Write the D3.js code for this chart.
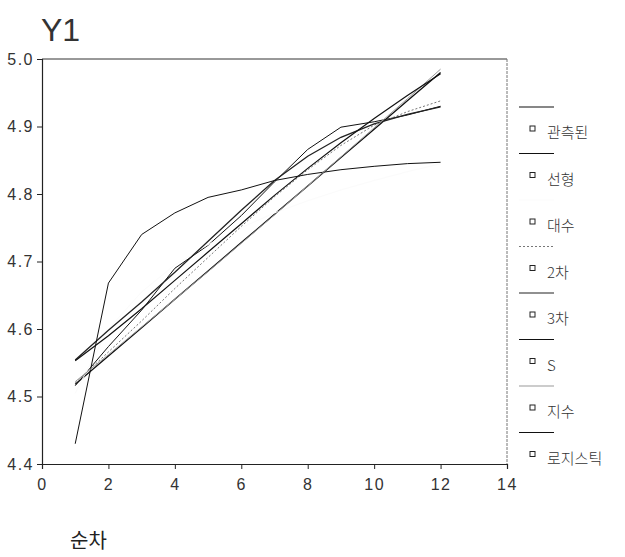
<!DOCTYPE html>
<html lang="ko">
  <head>
    <meta charset="UTF-8" />
    <title>Y1 curve fit</title>
    <style type="text/css">
      body {
        margin: 0;
        background: #ffffff;
        font-family: "Liberation Sans", Arial, sans-serif;
      }
      svg {
        display: block;
      }
      .tick-label {
        font-size: 16px;
        letter-spacing: 1.5px;
        fill: #333;
      }
      .legend-label {
        font-family: "Noto Sans CJK KR", "Liberation Sans", sans-serif;
        font-size: 15px;
        font-weight: 300;
        fill: #333;
      }
    </style>
  </head>
  <body>
    <script src="https://cdnjs.cloudflare.com/ajax/libs/d3/7.8.5/d3.min.js"></script>
    <script>
      // time index
      var t = [1, 2, 3, 4, 5, 6, 7, 8, 9, 10, 11, 12];

      // series values
      var observed = [4.516, 4.574, 4.628, 4.690, 4.724, 4.768, 4.818, 4.866, 4.899, 4.907, 4.917, 4.930];
      var linear = [4.518, 4.560, 4.602, 4.644, 4.686, 4.728, 4.770, 4.812, 4.854, 4.896, 4.938, 4.980];
      var logarithmic = [4.505, 4.600, 4.655, 4.695, 4.725, 4.750, 4.772, 4.790, 4.806, 4.820, 4.833, 4.845];
      var quadratic = [4.520, 4.566, 4.612, 4.660, 4.706, 4.752, 4.796, 4.836, 4.872, 4.902, 4.922, 4.938];
      var cubic = [4.554, 4.598, 4.640, 4.684, 4.730, 4.776, 4.820, 4.856, 4.884, 4.904, 4.918, 4.929];
      var sCurve = [4.430, 4.668, 4.740, 4.772, 4.795, 4.806, 4.820, 4.829, 4.836, 4.841, 4.845, 4.847];
      var exponential = [4.522, 4.562, 4.603, 4.644, 4.685, 4.727, 4.769, 4.812, 4.855, 4.898, 4.941, 4.985];
      var logistic = [4.553, 4.590, 4.630, 4.672, 4.714, 4.756, 4.798, 4.838, 4.876, 4.912, 4.946, 4.978];

      var names = ["관측된", "선형", "대수", "2차", "3차", "S", "지수", "로지스틱"];
      var xTicks = [0, 2, 4, 6, 8, 10, 12, 14];
      var yTicks = [4.4, 4.5, 4.6, 4.7, 4.8, 4.9, 5.0];

      var series = [
        { name: names[0], values: observed, stroke: "#111", width: 1, dash: null },
        { name: names[1], values: linear, stroke: "#111", width: 1.3, dash: null },
        { name: names[2], values: logarithmic, stroke: "#fbfbfb", width: 1, dash: null },
        { name: names[3], values: quadratic, stroke: "#777", width: 1, dash: "2,2" },
        { name: names[4], values: cubic, stroke: "#222", width: 1.3, dash: null },
        { name: names[5], values: sCurve, stroke: "#111", width: 1, dash: null },
        { name: names[6], values: exponential, stroke: "#999", width: 1, dash: null },
        { name: names[7], values: logistic, stroke: "#111", width: 1.2, dash: null },
      ];

      var width = 625;
      var height = 557;
      var svg = d3.select("body").append("svg").attr("width", width).attr("height", height);

      var x = d3.scaleLinear().domain([0, 14]).range([42, 507]);
      var y = d3.scaleLinear().domain([4.4, 5.0]).range([464, 59]);

      // frame
      svg.append("line")
        .attr("x1", x(0)).attr("x2", x(14))
        .attr("y1", y(5.0)).attr("y2", y(5.0))
        .attr("stroke", "#333");
      svg.append("line")
        .attr("x1", x(14)).attr("x2", x(14))
        .attr("y1", y(5.0)).attr("y2", y(4.4))
        .attr("stroke", "#777")
        .attr("stroke-dasharray", "3,1");

      var yAxis = d3.axisLeft(y).tickValues(yTicks).tickFormat(d3.format(".1f")).tickSize(5).tickPadding(3);
      var xAxis = d3.axisBottom(x).tickValues(xTicks).tickFormat(d3.format("d")).tickSize(5).tickPadding(10);

      var gy = svg.append("g").attr("transform", `translate(${x(0)},0)`).call(yAxis);
      var gx = svg.append("g").attr("transform", `translate(0,${y(4.4)})`).call(xAxis);
      [gx, gy].forEach((g) => {
        g.select(".domain").attr("stroke", "#222").attr("stroke-width", 1.2);
        g.selectAll(".tick line").attr("stroke", "#222");
        g.selectAll(".tick text")
          .attr("class", "tick-label")
          .attr("font-family", null)
          .attr("font-size", null);
      });

      var line = d3
        .line()
        .x((d, i) => x(t[i]))
        .y((d) => y(d));

      svg.append("g")
        .attr("fill", "none")
        .selectAll("path")
        .data(series)
        .join("path")
        .attr("d", (d) => line(d.values))
        .attr("stroke", (d) => d.stroke)
        .attr("stroke-width", (d) => d.width)
        .attr("stroke-dasharray", (d) => d.dash);

      // legend
      var legend = svg.append("g").attr("transform", "translate(519,107)");
      var item = legend
        .selectAll("g")
        .data(series)
        .join("g")
        .attr("transform", (d, i) => `translate(0,${i * 46.5})`);

      item.append("line")
        .attr("x1", 0).attr("x2", 35)
        .attr("stroke", (d) => d.stroke)
        .attr("stroke-width", 1.2)
        .attr("stroke-dasharray", (d) => d.dash);

      item.append("rect")
        .attr("x", 11).attr("y", 19)
        .attr("width", 5).attr("height", 5)
        .attr("fill", "none")
        .attr("stroke", "#222");

      item.append("text")
        .attr("class", "legend-label")
        .attr("x", 28).attr("y", 31)
        .text((d) => d.name);

      // title and x label
      svg.append("text")
        .attr("x", 41).attr("y", 41)
        .attr("font-size", 32)
        .attr("fill", "#333")
        .text("Y1");

      svg.append("text")
        .attr("x", 70).attr("y", 548)
        .attr("font-family", "'Noto Sans CJK KR', sans-serif")
        .attr("font-size", 20)
        .attr("fill", "#222")
        .text("순차");
    </script>
  </body>
</html>
